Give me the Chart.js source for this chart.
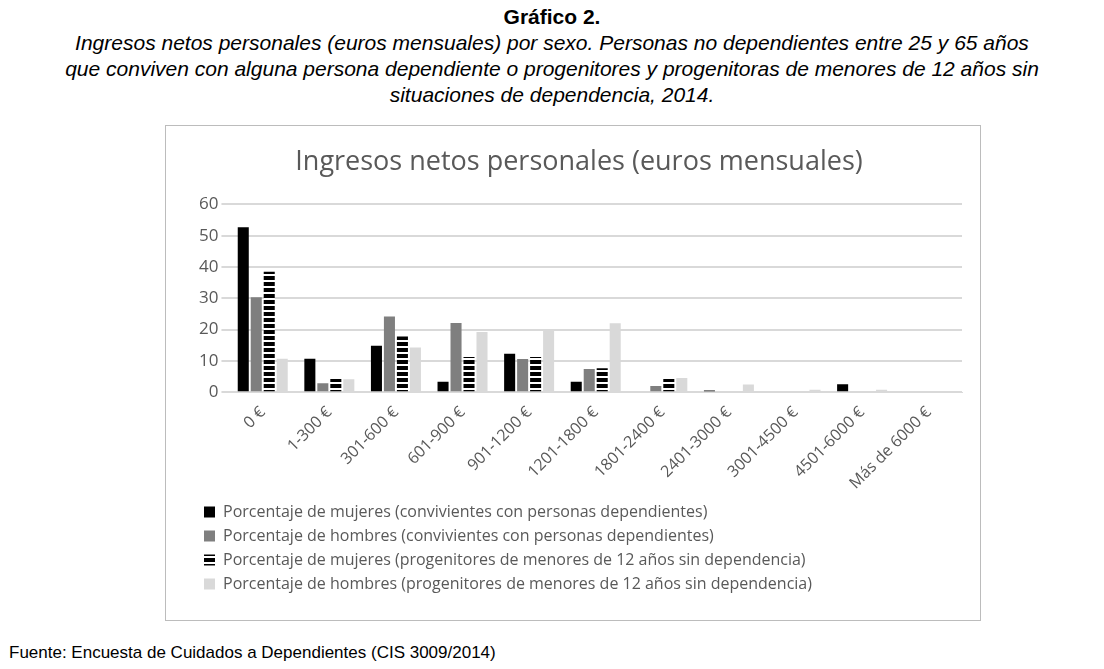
<!DOCTYPE html>
<html><head><meta charset="utf-8">
<script src="https://cdn.jsdelivr.net/npm/chart.js@4"></script>
<style>
body{margin:0;background:#fff;font-family:"Liberation Sans",Arial,sans-serif;width:1104px;height:669px;position:relative}
.hdr{position:absolute;top:4px;left:0;width:1104px;text-align:center;font-size:21px;line-height:26px;color:#000}
.hdr b{display:block}
.hdr i{display:block}
.box{position:absolute;left:165px;top:125px;width:814px;height:494px;border:1px solid #bcbcbc}
.foot{position:absolute;left:9px;top:643px;font-size:17px}
</style></head><body>
<div class="hdr"><b>Gráfico 2.</b><i>Ingresos netos personales (euros mensuales) por sexo. Personas no dependientes entre 25 y 65 años<br>que conviven con alguna persona dependiente o progenitores y progenitoras de menores de 12 años sin<br>situaciones de dependencia, 2014.</i></div>
<div class="box"><canvas id="c" width="814" height="494"></canvas></div>
<div class="foot">Fuente: Encuesta de Cuidados a Dependientes (CIS 3009/2014)</div>
<script>
const categories = ['0 €','1-300 €','301-600 €','601-900 €','901-1200 €','1201-1800 €','1801-2400 €','2401-3000 €','3001-4500 €','4501-6000 €','Más de 6000 €'];
const mujeresDep = [52.7, 10.7, 14.8, 3.3, 12.3, 3.3, 0, 0.5, 0, 2.5, 0];
const hombresDep = [30.3, 2.8, 24.2, 22.1, 10.6, 7.4, 2.0, 0, 0, 0, 0];
const mujeresProg = [38.5, 4.2, 17.8, 11.2, 11.2, 7.6, 4.2, 0, 0, 0, 0];
const hombresProg = [10.7, 4.1, 14.3, 19.2, 20.0, 22.0, 4.5, 2.4, 0.8, 0.8, 0];
const seriesNames = [
  'Porcentaje de mujeres (convivientes con personas dependientes)',
  'Porcentaje de hombres (convivientes con personas dependientes)',
  'Porcentaje de mujeres (progenitores de menores de 12 años sin dependencia)',
  'Porcentaje de hombres (progenitores de menores de 12 años sin dependencia)'
];

function stripes() {
  const p = document.createElement('canvas');
  p.width = 8; p.height = 6;
  const g = p.getContext('2d');
  g.fillStyle = '#fff'; g.fillRect(0, 0, 8, 6);
  g.fillStyle = '#000'; g.fillRect(0, 0, 8, 4);
  return document.getElementById('c').getContext('2d').createPattern(p, 'repeat');
}

const font = '"Open Sans", sans-serif';
new Chart(document.getElementById('c'), {
  type: 'bar',
  data: {
    labels: categories,
    datasets: [
      { label: seriesNames[0], data: mujeresDep, backgroundColor: '#000' },
      { label: seriesNames[1], data: hombresDep, backgroundColor: '#7f7f7f' },
      { label: seriesNames[2], data: mujeresProg, backgroundColor: stripes() },
      { label: seriesNames[3], data: hombresProg, backgroundColor: '#d9d9d9' }
    ]
  },
  options: {
    responsive: false,
    animation: false,
    layout: { padding: { left: 30, right: 18, top: 8, bottom: 18 } },
    datasets: { bar: { categoryPercentage: 0.78, barPercentage: 0.85 } },
    plugins: {
      title: { display: true, text: 'Ingresos netos personales (euros mensuales)', color: '#595959',
        font: { family: font, size: 27, weight: 'normal' }, padding: { top: 12, bottom: 26 } },
      legend: { position: 'bottom', align: 'start',
        labels: { color: '#595959', font: { family: font, size: 16 }, boxWidth: 11, boxHeight: 11, padding: 8 } },
      tooltip: { enabled: false }
    },
    scales: {
      x: { grid: { display: false }, border: { color: '#d9d9d9' },
        ticks: { color: '#595959', font: { family: font, size: 16 }, minRotation: 45, maxRotation: 45 } },
      y: { min: 0, max: 60, ticks: { stepSize: 10, color: '#595959', font: { family: font, size: 17 } },
        grid: { color: '#d9d9d9', lineWidth: 2 }, border: { display: false } }
    }
  }
});
</script>
</body></html>
